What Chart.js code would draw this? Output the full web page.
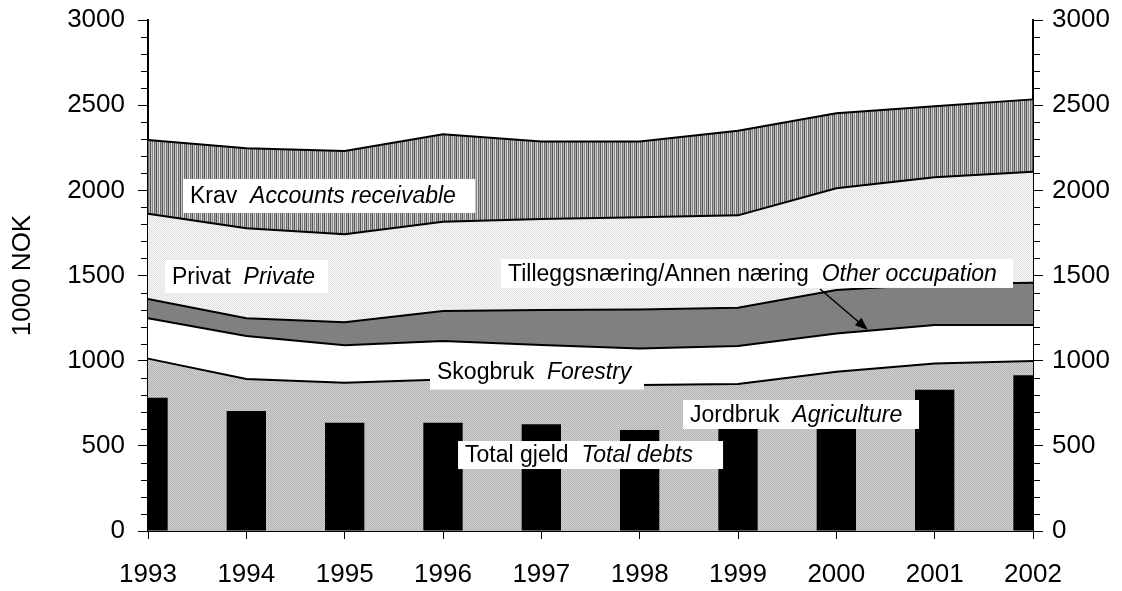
<!DOCTYPE html>
<html lang="no">
<head>
  <meta charset="UTF-8">
  <title>Gjeld</title>
  <style>
    body { margin: 0; background: #fff; }
    #wrap { width: 1122px; height: 591px; }
  </style>
</head>
<body>
  <div id="wrap"><canvas id="grafico" width="1122" height="591"></canvas></div>

  <script src="https://cdn.jsdelivr.net/npm/chart.js"></script>
  <script>
    // Data (1000 NOK)
    const years = ['1993', '1994', '1995', '1996', '1997', '1998', '1999', '2000', '2001', '2002'];
    const totalGjeld = [783, 705, 636, 636, 626, 593, 690, 720, 829, 915];
    const jordbruk = [1012, 892, 871, 890, 865, 857, 863, 935, 984, 998];
    const skogbruk = [237, 253, 219, 225, 227, 215, 223, 225, 225, 211];
    const tillegg = [113, 104, 135, 177, 205, 229, 225, 255, 239, 249];
    const privat = [501, 528, 517, 524, 535, 541, 542, 597, 629, 651];
    const krav = [432, 470, 489, 513, 454, 444, 497, 440, 416, 425];
    const yMajor = [0, 500, 1000, 1500, 2000, 2500, 3000];
    const yMinorStep = 100;

    const FONT = "'Liberation Sans', Arial, sans-serif";

    // tekstbokser: x = kategori-indeks, y = verdi (venstre kant, midten)
    const labels = [
      { x: 0.356, y: 1967, w: 292, h: 34, norm: 'Krav', ital: 'Accounts receivable' },
      { x: 0.173, y: 1494, w: 163, h: 33, norm: 'Privat', ital: 'Private' },
      { x: 3.59, y: 1512, w: 512, h: 29, norm: 'Tilleggsnæring/Annen næring', ital: 'Other occupation' },
      { x: 2.868, y: 933, w: 214, h: 35, norm: 'Skogbruk', ital: 'Forestry' },
      { x: 5.441, y: 684, w: 236, h: 29, norm: 'Jordbruk', ital: 'Agriculture' },
      { x: 3.153, y: 446, w: 265, h: 28, norm: 'Total gjeld', ital: 'Total debts' }
    ];
    const arrow = { from: [6.834, 1421], to: [7.322, 1180] };

    function makePattern(w, h, colors) {
      const c = document.createElement('canvas');
      c.width = w; c.height = h;
      const g = c.getContext('2d');
      for (let i = 0; i < w * h; i++) {
        g.fillStyle = colors[i % colors.length];
        g.fillRect(i % w, Math.floor(i / w), 1, 1);
      }
      return g.createPattern(c, 'repeat');
    }

    const kravFill = makePattern(6, 1, ['#555555', '#c4c4c4', '#858585', '#dcdcdc', '#6a6a6a', '#adadad']);
    const privatFill = makePattern(2, 2, ['#e2e2e2', '#f6f6f6', '#f6f6f6', '#e2e2e2']);
    const jordFill = makePattern(2, 2, ['#b2b2b2', '#d2d2d2', '#d2d2d2', '#b2b2b2']);

    // tekstbokser og pil
    const annotasjoner = {
      id: 'annotasjoner',
      afterDatasetsDraw(chart) {
        const ctx = chart.ctx;
        const xs = chart.scales.x, ys = chart.scales.y;
        ctx.save();
        labels.forEach(l => {
          const px = xs.getPixelForValue(l.x);
          const py = ys.getPixelForValue(l.y);
          ctx.fillStyle = '#fff';
          ctx.fillRect(px, py - l.h / 2, l.w, l.h);
          ctx.fillStyle = '#000';
          ctx.textBaseline = 'middle';
          ctx.font = '23px ' + FONT;
          ctx.fillText(l.norm, px + 7, py + 1);
          const w1 = ctx.measureText(l.norm + '  ').width;
          ctx.font = 'italic 23px ' + FONT;
          ctx.fillText(l.ital, px + 7 + w1, py + 1);
        });
        // pil
        const x1 = xs.getPixelForValue(arrow.from[0]), y1 = ys.getPixelForValue(arrow.from[1]);
        const x2 = xs.getPixelForValue(arrow.to[0]), y2 = ys.getPixelForValue(arrow.to[1]);
        const ang = Math.atan2(y2 - y1, x2 - x1);
        ctx.strokeStyle = '#000';
        ctx.lineWidth = 1.5;
        ctx.beginPath();
        ctx.moveTo(x1, y1);
        ctx.lineTo(x2 - 10 * Math.cos(ang), y2 - 10 * Math.sin(ang));
        ctx.stroke();
        ctx.fillStyle = '#000';
        ctx.beginPath();
        ctx.moveTo(x2, y2);
        ctx.lineTo(x2 - 13 * Math.cos(ang) + 5 * Math.sin(ang), y2 - 13 * Math.sin(ang) - 5 * Math.cos(ang));
        ctx.lineTo(x2 - 13 * Math.cos(ang) - 5 * Math.sin(ang), y2 - 13 * Math.sin(ang) + 5 * Math.cos(ang));
        ctx.closePath();
        ctx.fill();
        ctx.restore();
      },
      afterDraw(chart) {
        // små mellomstreker på begge y-aksene
        const ctx = chart.ctx;
        const ys = chart.scales.y;
        const a = chart.chartArea;
        ctx.save();
        ctx.strokeStyle = '#000';
        ctx.lineWidth = 1;
        for (let v = 0; v <= 3000; v += yMinorStep) {
          if (v % 500 === 0) continue;
          const py = Math.round(ys.getPixelForValue(v)) + 0.5;
          ctx.beginPath();
          ctx.moveTo(a.left - 7, py); ctx.lineTo(a.left, py);
          ctx.moveTo(a.right, py); ctx.lineTo(a.right + 7, py);
          ctx.stroke();
        }
        ctx.restore();
      }
    };

    function lag(data, fill, bg) {
      return {
        type: 'line', data: data, stack: 'lag',
        fill: fill, backgroundColor: bg,
        borderColor: '#000', borderWidth: 2,
        pointRadius: 0, tension: 0
      };
    }

    const yAxis = (pos, pad, w) => ({
      type: 'linear', position: pos, min: 0, max: 3000,
      stacked: true,
      afterBuildTicks: s => { s.ticks = yMajor.map(v => ({ value: v })); },
      afterFit: s => { s.width = w; s.paddingTop = 0; s.paddingBottom = 0; },
      grid: { drawOnChartArea: false, tickLength: 10, color: '#000', lineWidth: 1 },
      border: { color: '#000', width: 2 },
      ticks: { color: '#000', padding: pad, font: { family: FONT, size: 26 }, callback: v => String(v) }
    });

    const ctx = document.getElementById('grafico').getContext('2d');
    const grafico = new Chart(ctx, {
      type: 'bar',
      data: {
        labels: years,
        datasets: [
          {
            type: 'bar', label: 'Total gjeld', data: totalGjeld, stack: 'gjeld',
            backgroundColor: '#000', borderWidth: 0,
            barPercentage: 0.5, categoryPercentage: 0.8, clip: 0
          },
          lag(jordbruk, 'origin', jordFill),
          lag(skogbruk, '-1', '#ffffff'),
          lag(tillegg, '-1', '#808080'),
          lag(privat, '-1', privatFill),
          lag(krav, '-1', kravFill)
        ]
      },
      options: {
        responsive: false,
        animation: false,
        layout: { padding: { top: 20, left: 0, right: 0, bottom: 0 } },
        plugins: { legend: { display: false }, tooltip: { enabled: false } },
        scales: {
          x: {
            type: 'category', offset: false,
            afterFit: s => { s.height = 60; s.paddingLeft = 0; s.paddingRight = 0; },
            grid: { offset: false, drawOnChartArea: false, tickLength: 8, color: '#000', lineWidth: 1 },
            border: { color: '#000', width: 2 },
            ticks: { color: '#000', padding: 20, maxRotation: 0, font: { family: FONT, size: 26 } }
          },
          y: Object.assign(yAxis('left', 13, 148), {
            title: { display: true, text: '1000 NOK', color: '#000', padding: { top: 7, bottom: 0 }, font: { family: FONT, size: 26 } }
          }),
          y2: Object.assign(yAxis('right', 9, 89), { stacked: false })
        }
      },
      plugins: [annotasjoner]
    });
  </script>
</body>
</html>
